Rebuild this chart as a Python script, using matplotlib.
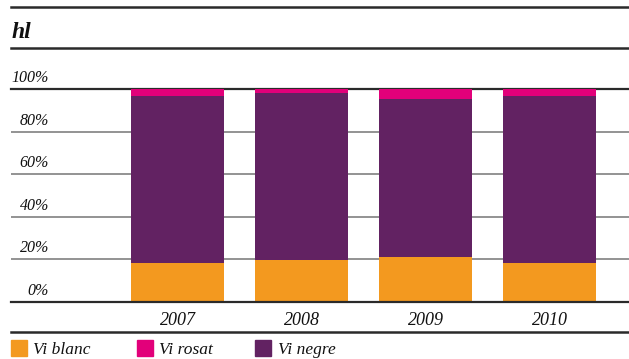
import matplotlib
matplotlib.use("Agg")
import matplotlib.pyplot as plt
from matplotlib.lines import Line2D
from matplotlib.patches import Rectangle

years = ["2007", "2008", "2009", "2010"]
vi_blanc = [18.3, 19.7, 21.1, 18.3]
vi_negre = [78.4, 78.4, 74.2, 78.4]
vi_rosat = [3.3, 1.9, 4.7, 3.3]
ytick_vals = [0, 20, 40, 60, 80, 100]
ytick_labels = ["0%", "20%", "40%", "60%", "80%", "100%"]
legend_labels = ["Vi blanc", "Vi rosat", "Vi negre"]

c_blanc = "#F3991F"
c_rosat = "#E2007A"
c_negre = "#622262"
dark = "#2a2a2a"
grey = "#8a8a8a"
FONT = "Liberation Serif"

W, H = 629, 359
fig = plt.figure(figsize=(W / 100, H / 100), dpi=100)

def fx(px):
    return px / W

def fy(py):
    return 1 - py / H

ax = fig.add_axes([fx(11), fy(302), (629 - 11) / W, (302 - 89) / H])
ax.set_xlim(-(177.5 - 11) / 124, (629 - 177.5) / 124)
ax.set_ylim(0, 100)
for s in ax.spines.values():
    s.set_visible(False)
ax.set_xticks([])
ax.set_yticks([])

x = list(range(len(years)))
bw = 0.75
for v in ytick_vals:
    if v in (0, 100):
        ax.axhline(v, color=dark, lw=1.6, zorder=3 if v == 0 else 1, clip_on=False)
    else:
        ax.axhline(v, color=grey, lw=1.3, zorder=1)

ax.bar(x, vi_blanc, width=bw, color=c_blanc, zorder=2)
ax.bar(x, vi_negre, width=bw, bottom=vi_blanc, color=c_negre, zorder=2)
bottom2 = [a + b for a, b in zip(vi_blanc, vi_negre)]
ax.bar(x, vi_rosat, width=bw, bottom=bottom2, color=c_rosat, zorder=2)

# y tick labels above the lines
for v, lab in zip(ytick_vals, ytick_labels):
    ax.text(fx(49) * W / W, v, lab, transform=ax.get_yaxis_transform(), alpha=0)
    fig.text(fx(49), fy(302 - v * 2.13 - 7), lab, ha="right", va="baseline",
             fontsize=11.5, fontstyle="italic", family=FONT, color="#111111")

# year labels
for xi, yr in zip(x, years):
    ax.text(xi, -4.5, yr, ha="center", va="top", fontsize=13, fontstyle="italic",
            family=FONT, color="#111111", clip_on=False)

# frame lines
for py, lw in [(7, 1.8), (48, 1.8), (332, 1.8)]:
    fig.add_artist(Line2D([fx(11), 1], [fy(py), fy(py)], color=dark, lw=lw))

fig.text(fx(12), fy(38), "hl", ha="left", va="baseline", fontsize=17,
         fontstyle="italic", fontweight="bold", family=FONT, color="#111111")

# legend
leg_items = [(11, 33, c_blanc), (137, 159, c_rosat), (255, 278, c_negre)]
for (sx, tx, col), lab in zip(leg_items, legend_labels):
    fig.add_artist(Rectangle((fx(sx), fy(356)), 16 / W, 16 / H, color=col,
                             transform=fig.transFigure))
    fig.text(fx(tx), fy(354), lab, ha="left", va="baseline", fontsize=12.5,
             fontstyle="italic", family=FONT, color="#111111")

fig.savefig("out.png", dpi=100)
